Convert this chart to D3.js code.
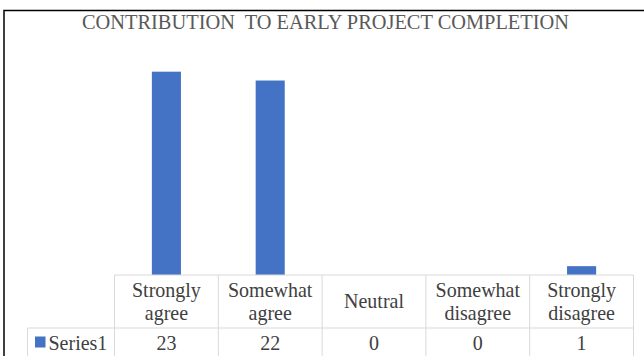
<!DOCTYPE html>
<html>
<head>
<meta charset="utf-8">
<script src="https://cdn.jsdelivr.net/npm/d3@7"></script>
<style>
  html, body { margin: 0; padding: 0; background: #fff; }
  svg { display: block; }
  svg text, svg tspan { font-family: "Liberation Serif", "Times New Roman", serif; }
</style>
</head>
<body>
<svg id="chart" width="644" height="356"></svg>
<script>
// Survey responses
const categories = [
  ["Strongly", "agree"],
  ["Somewhat", "agree"],
  ["Neutral"],
  ["Somewhat", "disagree"],
  ["Strongly", "disagree"]
];
const seriesName = "Series1";
const values = [23, 22, 0, 0, 1];
const chartTitle = "CONTRIBUTION\u00A0 TO EARLY PROJECT COMPLETION";

const serif = "'Liberation Serif', 'Times New Roman', serif";
const svg = d3.select("#chart");
const W = 644, H = 356;

const plot = { left: 114.5, right: 633.5, top: 54, bottom: 275 };
const rowSplit = 328, tableBottom = 356, legendLeft = 27.5;

const blue = "#4472c4";
const gridCol = "#d9d9d9";
const textCol = "#404040";
const fs = 20;
const stretch = 1.07; // glyphs are drawn slightly taller than wide

// places a text node at (x, baseline) with a small vertical stretch
function place(sel, x, yb) {
  return sel.attr("transform", `translate(${x},${yb}) scale(1,${stretch})`);
}

// frame
svg.append("path")
  .attr("d", `M4,${H} V10.5 H${W}`)
  .attr("fill", "none").attr("stroke", "#000").attr("stroke-width", 1.5);

// title
place(svg.append("text"), 325.5, 29)
  .attr("text-anchor", "middle")
  .attr("font-family", serif)
  .attr("font-size", 20.4)
  .attr("fill", "#595959")
  .text(chartTitle);

const x = d3.scaleBand()
  .domain(d3.range(categories.length))
  .range([plot.left, plot.right])
  .paddingInner(0).paddingOuter(0);

const y = d3.scaleLinear().domain([0, 25]).range([plot.bottom, plot.top]);

// bars
const barW = x.bandwidth() * 0.28;
svg.append("g").selectAll("rect")
  .data(values)
  .join("rect")
  .attr("x", (d, i) => x(i) + (x.bandwidth() - barW) / 2)
  .attr("width", barW)
  .attr("y", d => y(d))
  .attr("height", d => y(0) - y(d))
  .attr("fill", blue);

// data table grid
const grid = svg.append("g").attr("stroke", gridCol).attr("stroke-width", 1).attr("fill", "none");
grid.append("line").attr("x1", plot.left).attr("x2", plot.right).attr("y1", plot.bottom).attr("y2", plot.bottom);
grid.append("line").attr("x1", legendLeft).attr("x2", plot.right).attr("y1", rowSplit).attr("y2", rowSplit);
grid.append("line").attr("x1", legendLeft).attr("x2", legendLeft).attr("y1", rowSplit).attr("y2", tableBottom);
const edges = d3.range(categories.length + 1).map(i => i < categories.length ? x(i) : plot.right);
grid.selectAll("line.col")
  .data(edges)
  .join("line").attr("class", "col")
  .attr("x1", d => d).attr("x2", d => d)
  .attr("y1", plot.bottom).attr("y2", tableBottom);

// category labels
const catG = svg.append("g").attr("fill", textCol).attr("font-family", serif)
  .attr("font-size", fs).attr("text-anchor", "middle");
const mid = (plot.bottom + rowSplit) / 2;
const lh = 23;
categories.forEach((lines, i) => {
  const cx = x(i) + x.bandwidth() / 2;
  lines.forEach((ln, k) => {
    place(catG.append("text"), cx, mid + (k - (lines.length - 1) / 2) * lh + 6.5).text(ln);
  });
});

// value row
const valBase = (rowSplit + tableBottom) / 2 + 7.5;
const valG = svg.append("g").attr("fill", textCol).attr("font-family", serif)
  .attr("font-size", fs).attr("text-anchor", "middle");
values.forEach((v, i) => {
  place(valG.append("text"), x(i) + x.bandwidth() / 2, valBase).text(v);
});

// legend key
svg.append("rect").attr("x", 35).attr("y", 336.5).attr("width", 10.5).attr("height", 11).attr("fill", blue);
place(svg.append("text"), 48.5, valBase)
  .attr("font-family", serif)
  .attr("font-size", fs).attr("fill", textCol).text(seriesName);
</script>
</body>
</html>
